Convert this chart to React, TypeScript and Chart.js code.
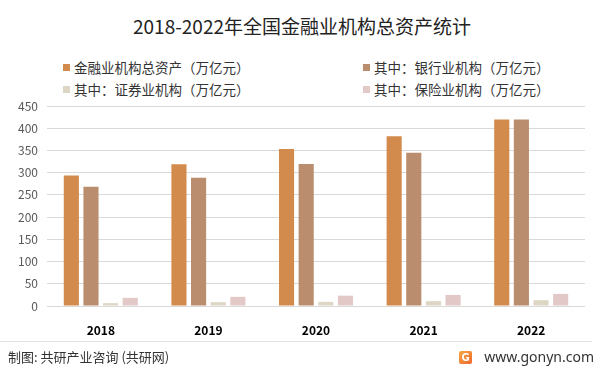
import React, { useEffect, useRef } from "react";
import { Chart, registerables } from "chart.js";

Chart.register(...registerables);

const years = ["2018", "2019", "2020", "2021", "2022"];
const totalAssets = [293.5, 318.7, 353.2, 381.9, 419.6];
const bankAssets = [268.2, 288.5, 319.7, 344.8, 419.4];
const securitiesAssets = [6.4, 8.6, 9.3, 10.9, 13.1];
const insuranceAssets = [18.3, 20.6, 23.3, 24.9, 27.2];

const seriesNames = [
  "金融业机构总资产（万亿元）",
  "其中：银行业机构（万亿元）",
  "其中：证券业机构（万亿元）",
  "其中：保险业机构（万亿元）",
];
const seriesColors = ["#d38b4d", "#b98d6d", "#ddd6c4", "#e2c9c8"];

const titleText = "2018-2022年全国金融业机构总资产统计";
const sourceText = "制图: 共研产业咨询 (共研网)";
const siteText = "www.gonyn.com";

const FONT = "'Noto Sans CJK SC', 'Noto Sans', sans-serif";

export default function App() {
  const canvasRef = useRef<HTMLCanvasElement | null>(null);

  useEffect(() => {
    document.body.style.margin = "0";
    const ctx = canvasRef.current;
    if (!ctx) return;
    const chart = new Chart(ctx, {
      type: "bar",
      data: {
        labels: years,
        datasets: [totalAssets, bankAssets, securitiesAssets, insuranceAssets].map((d, i) => ({
          label: seriesNames[i],
          data: d,
          backgroundColor: seriesColors[i],
          categoryPercentage: 0.73,
          barPercentage: 0.77,
        })),
      },
      options: {
        responsive: false,
        animation: false,
        maintainAspectRatio: false,
        layout: { padding: { top: 106, right: 15, bottom: 0, left: 0 } },
        plugins: {
          legend: { display: false },
          title: { display: false },
          tooltip: { enabled: false },
        },
        scales: {
          x: {
            grid: { display: false },
            border: { display: false },
            ticks: {
              color: "#000",
              padding: 9,
              font: { family: FONT, size: 12, weight: "bold" },
            },
            afterFit: (s: any) => {
              s.height = 67;
            },
          },
          y: {
            min: 0,
            max: 450,
            grid: { color: "#d9d9d9", drawTicks: false, lineWidth: 1 },
            border: { display: false },
            ticks: {
              stepSize: 50,
              color: "#595959",
              padding: 9,
              font: { family: FONT, size: 12 },
            },
            afterFit: (s: any) => {
              s.width = 47;
            },
          },
        },
      },
    });
    return () => chart.destroy();
  }, []);

  const legendItem = (i: number, left: number, top: number) => (
    <div
      key={i}
      style={{
        position: "absolute",
        left,
        top,
        display: "flex",
        alignItems: "center",
        fontSize: 13.5,
        color: "#333",
        whiteSpace: "nowrap",
        lineHeight: "16px",
      }}
    >
      <span
        style={{
          display: "inline-block",
          width: 7,
          height: 7,
          background: seriesColors[i],
          marginRight: 4,
        }}
      />
      <span>{seriesNames[i]}</span>
    </div>
  );

  return (
    <div
      style={{
        position: "absolute",
        left: 0,
        top: 0,
        width: 600,
        height: 373,
        background: "#fff",
        fontFamily: FONT,
        overflow: "hidden",
      }}
    >
      <div
        style={{
          position: "absolute",
          left: 0,
          top: 13,
          width: 604,
          textAlign: "center",
          fontSize: 19,
          color: "#222",
          lineHeight: "26px",
          whiteSpace: "nowrap",
        }}
      >
        {titleText}
      </div>
      {legendItem(0, 63, 59)}
      {legendItem(1, 363, 59)}
      {legendItem(2, 63, 81)}
      {legendItem(3, 363, 81)}
      <canvas
        ref={canvasRef}
        width={600}
        height={373}
        style={{ position: "absolute", left: 0, top: 0, width: 600, height: 373 }}
      />
      <div
        style={{
          position: "absolute",
          left: 0,
          top: 341,
          width: 592,
          height: 1,
          background: "#e3e3e3",
        }}
      />
      <div
        style={{
          position: "absolute",
          left: 8,
          top: 348,
          fontSize: 13,
          color: "#333",
          lineHeight: "18px",
          whiteSpace: "nowrap",
        }}
      >
        {sourceText}
      </div>
      <div
        style={{
          position: "absolute",
          left: 459,
          top: 351,
          width: 13,
          height: 13,
          borderRadius: 2,
          background: "linear-gradient(135deg, #f7a543, #ee6a2c)",
          color: "#fff",
          fontSize: 10,
          fontWeight: "bold",
          lineHeight: "13px",
          textAlign: "center",
          fontFamily: "'DejaVu Sans', sans-serif",
        }}
      >
        G
      </div>
      <div
        style={{
          position: "absolute",
          right: 6,
          top: 347,
          fontSize: 14,
          color: "#333",
          lineHeight: "20px",
          whiteSpace: "nowrap",
          fontFamily: "'Noto Sans', sans-serif",
        }}
      >
        {siteText}
      </div>
    </div>
  );
}
